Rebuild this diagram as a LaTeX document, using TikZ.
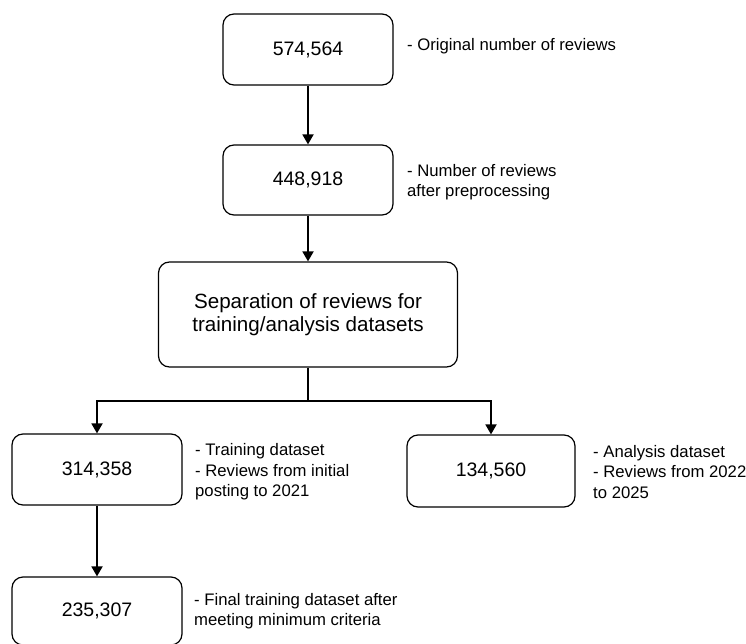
\documentclass[tikz,border=0pt]{standalone}
\usepackage{fontspec}
\setmainfont{Liberation Sans}
\usetikzlibrary{arrows.meta}
\begin{document}
\begin{tikzpicture}[x=1pt,y=-1pt,
  box/.style={draw, rounded corners=11pt, line width=1.2pt, inner sep=0pt, font=\fontsize{19.5}{23}\selectfont, align=center},
  note/.style={anchor=west, align=left, inner sep=0pt, font=\fontsize{16.7}{20.5}\selectfont},
  conn/.style={line width=1.8pt, -{Triangle[length=10pt,width=11pt]}}]
\useasboundingbox (0,0) rectangle (746,644);
\node[box, minimum width=170pt, minimum height=71pt] (b1) at (308,49.5) {574,564};
\node[box, minimum width=170pt, minimum height=70pt] (b2) at (308,180) {448,918};
\node[box, minimum width=299pt, minimum height=105pt, font=\fontsize{20.6}{23}\selectfont] (b3) at (308,314.5) {Separation of reviews for\\training/analysis datasets};
\node[box, minimum width=170pt, minimum height=71pt] (b4) at (97,469.5) {314,358};
\node[box, minimum width=168pt, minimum height=72pt] (b5) at (491,471) {134,560};
\node[box, minimum width=170pt, minimum height=68pt] (b6) at (97,611) {235,307};
\coordinate (split) at (308,401);
\node[note] (n1) at (407,46) {- Original number of reviews};
\node[note] (n2) at (407,182) {- Number of reviews\\after preprocessing};
\node[note] (n4) at (195,472) {- Training dataset\\- Reviews from initial\\posting to 2021};
\node[note] (n5) at (593,472) {- Analysis dataset\\- Reviews from 2022\\to 2025};
\node[note] (n6) at (194,611) {- Final training dataset after\\meeting minimum criteria};
\draw[conn] (b1) -- (b2);
\draw[conn] (b2) -- (b3);
\draw[line width=1.8pt] (b3.south) -- (split);
\draw[conn] (split) -| (b4.north);
\draw[conn] (split) -| (b5.north);
\draw[conn] (b4) -- (b6);
\end{tikzpicture}
\end{document}
